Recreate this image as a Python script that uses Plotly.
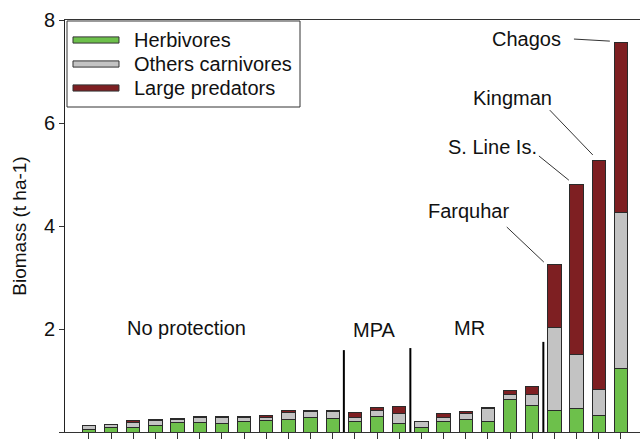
import plotly.graph_objects as go

sites = list(range(25))
herbivores = [0.04, 0.08, 0.08, 0.12, 0.18, 0.19, 0.17, 0.20, 0.22, 0.25, 0.28, 0.27,
              0.20, 0.31, 0.17,
              0.09, 0.21, 0.25, 0.21, 0.64, 0.52,
              0.42, 0.45, 0.33, 1.24]
other_carnivores = [0.08, 0.06, 0.10, 0.10, 0.065, 0.09, 0.11, 0.09, 0.07, 0.13, 0.11, 0.12,
                    0.09, 0.11, 0.18,
                    0.11, 0.07, 0.11, 0.25, 0.08, 0.21,
                    1.60, 1.06, 0.49, 3.03]
large_predators = [0.01, 0.01, 0.05, 0.03, 0.02, 0.02, 0.02, 0.02, 0.03, 0.03, 0.02, 0.02,
                   0.09, 0.065, 0.15,
                   0.005, 0.07, 0.03, 0.02, 0.08, 0.16,
                   1.24, 3.29, 4.45, 3.29]
series_names = ["Herbivores", "Others carnivores", "Large predators"]
series_colors = ["#6DC04B", "#C3C3C3", "#7E1F22"]
y_ticks = [0, 2, 4, 6, 8]

FONT = "Liberation Sans, Arial, sans-serif"
FS = 20
fig = go.Figure()
for name, vals, col in zip(series_names, [herbivores, other_carnivores, large_predators], series_colors):
    fig.add_trace(go.Bar(x=sites, y=vals, name=name, width=0.6,
                         marker=dict(color=col, line=dict(color="#2a2a2a", width=1)),
                         showlegend=False))

shapes = []
annotations = []
# group separators
for xs, ytop in [(11.5, 1.59), (14.5, 1.63), (20.5, 1.75)]:
    shapes.append(dict(type="line", xref="x", yref="y", x0=xs, x1=xs, y0=0, y1=ytop,
                       line=dict(color="black", width=2)))
# group labels
for txt, x, y in [("No protection", 4.38, 2.02), ("MPA", 12.9, 1.98), ("MR", 17.19, 2.02)]:
    annotations.append(dict(text=txt, x=x, y=y, xref="x", yref="y", showarrow=False,
                            font=dict(size=FS, color="#111", family=FONT)))
# site labels with leader lines
for txt, tx, ty, lx0, ly0, lx1, ly1 in [
    ("Chagos", 19.76, 7.63, 21.88, 7.63, 23.5, 7.59),
    ("Kingman", 19.12, 6.49, 20.79, 6.25, 22.73, 5.38),
    ("S. Line Is.", 18.22, 5.53, 20.30, 5.36, 21.65, 4.89),
    ("Farquhar", 17.14, 4.29, 18.85, 3.98, 20.52, 3.30),
]:
    annotations.append(dict(text=txt, x=tx, y=ty, xref="x", yref="y", showarrow=False,
                            font=dict(size=FS, color="#111", family=FONT)))
    shapes.append(dict(type="line", xref="x", yref="y", x0=lx0, y0=ly0, x1=lx1, y1=ly1,
                       line=dict(color="#333", width=1)))

# manual legend
shapes.append(dict(type="rect", xref="paper", yref="paper", x0=0.0035, x1=0.4087,
                   y0=0.7888, y1=0.9976, line=dict(color="#333", width=1), fillcolor="white"))
for name, col, yc in zip(series_names, series_colors, [0.9515, 0.8932, 0.8350]):
    shapes.append(dict(type="rect", xref="paper", yref="paper", x0=0.0139, x1=0.0939,
                       y0=yc - 0.0075, y1=yc + 0.0075, fillcolor=col,
                       line=dict(color="#333", width=1)))
    annotations.append(dict(text=name, x=0.1165, y=yc, xref="paper", yref="paper",
                            xanchor="left", yanchor="middle", showarrow=False,
                            font=dict(size=FS, color="#111", family=FONT)))

fig.update_layout(
    width=640, height=440,
    margin=dict(l=65, r=0, t=20, b=8),
    barmode="stack",
    plot_bgcolor="white", paper_bgcolor="white",
    font=dict(family=FONT, size=FS, color="#111"),
    shapes=shapes, annotations=annotations,
    xaxis=dict(range=[-1.08, 24.86], tickvals=sites, showticklabels=False,
               ticks="outside", ticklen=6, tickcolor="#333",
               showline=True, linecolor="#333", linewidth=1, mirror=True,
               showgrid=False, zeroline=False),
    yaxis=dict(range=[0, 8], tickvals=y_ticks, ticks="outside", ticklen=5,
               tickcolor="#333", showline=True, linecolor="#222", linewidth=1,
               showgrid=False, zeroline=False,
               title=dict(text="Biomass (t ha-1)", font=dict(size=19, family=FONT), standoff=12),
               tickfont=dict(size=FS, family=FONT)),
)
fig.write_html("out.html", config={"displayModeBar": False},
               post_script="document.body.style.margin='0';")
